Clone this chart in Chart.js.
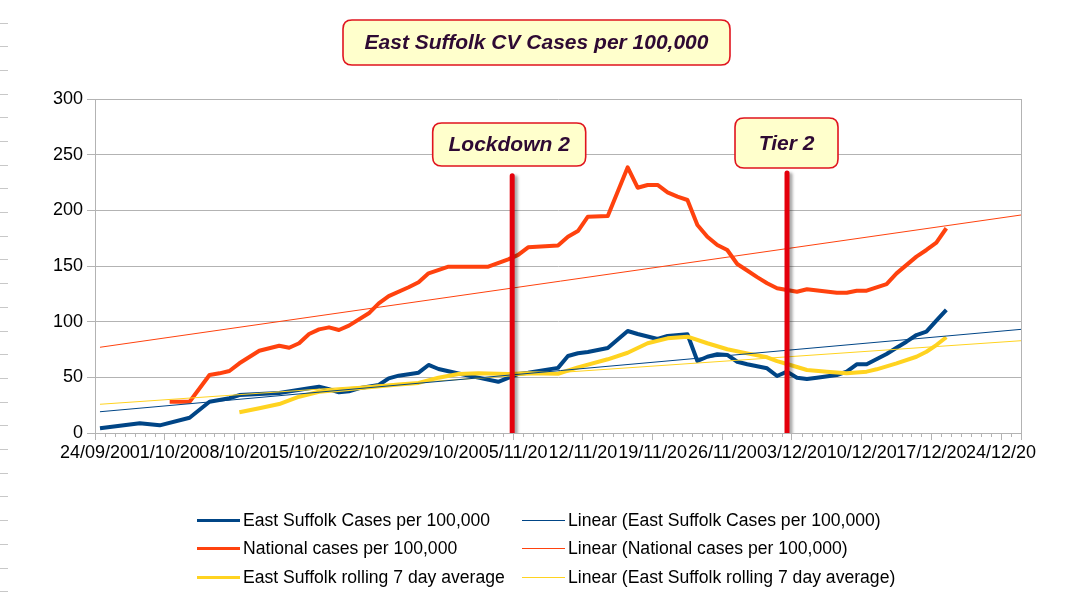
<!DOCTYPE html>
<html>
<head>
<meta charset="utf-8">
<title>East Suffolk CV Cases per 100,000</title>
<script src="https://cdn.jsdelivr.net/npm/chart.js@4/dist/chart.umd.min.js"></script>
<style>
  body { margin: 0; background: #fff; }
</style>
</head>
<body>
<canvas id="cvChart" width="1083" height="606"></canvas>
<script>
// x values are days counted from 24/09/20
var tickDays = [0, 7, 14, 21, 28, 35, 42, 49, 56, 63, 70, 77, 84, 91];
var tickLabels = ['24/09/20', '01/10/20', '08/10/20', '15/10/20', '22/10/20', '29/10/20', '05/11/20',
    '12/11/20', '19/11/20', '26/11/20', '03/12/20', '10/12/20', '17/12/20', '24/12/20'];

var eastDays = [0.5, 4.5, 6.5, 9.5, 11.5, 13.5, 14.5, 18.5, 21.5, 22.5, 23.5, 24.5, 25.5, 26.5, 28.5, 29.5, 30.5,
    32.5, 33.5, 34.5, 36.5, 38.5, 40.5, 41.5, 42.5, 43.5, 46.5, 47.5, 48.5, 49.5, 51.5, 53.5, 54.5, 56.5, 57.5,
    59.5, 60.5, 61.5, 62.5, 63.5, 64.5, 65.5, 67.5, 68.5, 69.5, 70.5, 71.5, 72.5, 74.5, 75.5, 76.5, 77.5, 79.5,
    80.5, 81.5, 82.5, 83.5, 84.5, 85.5];
var eastCases = [4.2, 8.7, 6.9, 13.7, 28.1, 31.2, 34.1, 35.9, 40.2, 41.6, 39.3, 36.5, 37.5, 40.2, 43.1, 49.1, 51.5,
    54.2, 61.1, 57.5, 53.5, 49.7, 46, 49.5, 53, 54.2, 58.5, 69.2, 71.6, 72.8, 76.3, 91.6, 88.9, 84.4, 87.1,
    88.7, 64.7, 68.5, 70.7, 70.1, 64, 61.7, 58.1, 51.2, 55.1, 49.7, 48.5, 49.7, 52.1, 55.1, 61.7, 61.7, 71,
    76.6, 82, 88, 91, 100.9, 110.5];

var nationalDays = [7.5, 9.5, 11.5, 12.5, 13.5, 14.5, 16.5, 18.5, 19.5, 20.5, 21.5, 22.5, 23.5, 24.5, 25.5, 27.5,
    28.5, 29.5, 31.5, 32.5, 33.5, 35.5, 39.5, 41.5, 42.5, 43.5, 46.5, 47.5, 48.5, 49.5, 51.5, 53.5, 54.5, 55.5,
    56.5, 57.5, 58.5, 59.5, 60.5, 61.5, 62.5, 63.5, 64.5, 65.5, 66.5, 67.5, 68.5, 69.5, 70.5, 71.5, 74.5, 75.5,
    76.5, 77.5, 79.5, 80.5, 82.5, 83.5, 84.5, 85.5];
var nationalCases = [28.1, 28.1, 52.1, 53.6, 55.7, 62.6, 73.9, 78.4, 76.6, 80.6, 88.9, 93.1, 94.9, 92.5, 96.4, 107.5,
    116.5, 123, 130.9, 135.4, 143.4, 149.4, 149.4, 156, 160, 166.8, 168.5, 176.3, 181.4, 194.3, 194.9, 238.6, 220.3, 222.8,
    222.8, 216.2, 212.3, 209.3, 186.8, 176.3, 168.9, 164.4, 151.8, 146, 140, 134.5, 130, 128.4, 126.9, 129.1, 126, 126,
    127.8, 127.8, 133.8, 143.4, 158.4, 164.4, 170.9, 183.9];

var rollingDays = [14.5, 16.5, 18.5, 20.5, 22.5, 24.5, 27.5, 30.5, 32.5, 34.5, 36.5, 38.5, 41.5, 43.5, 46.5, 48.5,
    51.5, 53.5, 55.5, 57.5, 59.5, 61.5, 63.5, 65.5, 67.5, 68.5, 69.5, 71.5, 73.5, 75.5, 77.5, 78.5, 80.5, 82.5,
    83.5, 84.5, 85.5];
var rollingAvg = [18.6, 22.2, 26, 32.6, 37, 38.6, 41, 43.5, 45, 49.7, 53, 53.6, 53, 53.6, 53.2, 59,
    66.2, 72.1, 80.6, 85, 86.5, 80.6, 75.2, 71.5, 68, 64.5, 62, 56.6, 55.1, 53.6, 55.1, 57.2, 62.6, 68.5,
    73, 79, 86];

// linear trend lines, end values
var trendDays = [0.5, 93];
var eastTrend = [19.1, 93.1];
var nationalTrend = [77, 195.8];
var rollingTrend = [25.8, 82.9];

var eventDays = [41.9, 69.5];
var eventTops = [231, 233.5];
var eventLabels = ['Lockdown 2', 'Tier 2'];

var chartTitle = 'East Suffolk CV Cases per 100,000';

function pts(days, vals) {
    return days.map(function (d, i) { return { x: d, y: vals[i] }; });
}

var datasets = [
    { label: 'East Suffolk Cases per 100,000', data: pts(eastDays, eastCases), borderColor: '#004586', borderWidth: 4, order: 3 },
    { label: 'Linear (East Suffolk Cases per 100,000)', data: pts(trendDays, eastTrend), borderColor: '#004586', borderWidth: 1, order: 0 },
    { label: 'National cases per 100,000', data: pts(nationalDays, nationalCases), borderColor: '#ff420e', borderWidth: 4, order: 2 },
    { label: 'Linear (National cases per 100,000)', data: pts(trendDays, nationalTrend), borderColor: '#ff420e', borderWidth: 1, order: 0 },
    { label: 'East Suffolk rolling 7 day average', data: pts(rollingDays, rollingAvg), borderColor: '#ffd320', borderWidth: 4, order: 1 },
    { label: 'Linear (East Suffolk rolling 7 day average)', data: pts(trendDays, rollingTrend), borderColor: '#ffd320', borderWidth: 1, order: 0 }
];
var legendCount = datasets.length;

eventDays.forEach(function (d, i) {
    datasets.push({
        label: eventLabels[i],
        data: [{ x: d, y: 0 }, { x: d, y: eventTops[i] }],
        borderColor: '#e4000c',
        borderWidth: 5,
        borderCapStyle: 'round',
        order: -1,
        isEvent: true
    });
});

datasets.forEach(function (ds) {
    ds.pointRadius = 0;
    ds.tension = 0;
    ds.fill = false;
    ds.borderJoinStyle = 'round';
});

function roundBox(c, x1, y1, x2, y2, r) {
    c.beginPath();
    c.moveTo(x1 + r, y1);
    c.lineTo(x2 - r, y1);
    c.quadraticCurveTo(x2, y1, x2, y1 + r);
    c.lineTo(x2, y2 - r);
    c.quadraticCurveTo(x2, y2, x2 - r, y2);
    c.lineTo(x1 + r, y2);
    c.quadraticCurveTo(x1, y2, x1, y2 - r);
    c.lineTo(x1, y1 + r);
    c.quadraticCurveTo(x1, y1, x1 + r, y1);
    c.closePath();
}

function labelBox(c, text, cx, y1, w, h) {
    c.save();
    roundBox(c, cx - w / 2, y1, cx + w / 2, y1 + h, 9);
    c.fillStyle = '#ffffcc';
    c.fill();
    c.lineWidth = 1.6;
    c.strokeStyle = '#e0141e';
    c.stroke();
    c.fillStyle = '#2e0a33';
    c.font = 'italic bold 21px "Liberation Sans"';
    c.textAlign = 'center';
    c.textBaseline = 'middle';
    c.fillText(text, cx, y1 + h / 2 + 1);
    c.restore();
}

var decorPlugin = {
    id: 'decor',
    beforeDatasetDraw: function (chart, args) {
        if (chart.data.datasets[args.index].isEvent) {
            var c = chart.ctx;
            c.save();
            c.shadowColor = 'rgba(0,0,0,0.35)';
            c.shadowOffsetX = 3;
            c.shadowOffsetY = 2;
            c.shadowBlur = 3;
        }
    },
    afterDatasetDraw: function (chart, args) {
        if (chart.data.datasets[args.index].isEvent) {
            chart.ctx.restore();
        }
    },
    afterDraw: function (chart) {
        var c = chart.ctx;
        var area = chart.chartArea;
        var xs = chart.scales.x;

        // sheet row marks on the left edge
        c.save();
        c.strokeStyle = '#c8c8c8';
        c.lineWidth = 1;
        for (var yy = 22.5; yy < 606; yy += 23.7) {
            c.beginPath();
            c.moveTo(0, Math.round(yy) + 0.5);
            c.lineTo(8, Math.round(yy) + 0.5);
            c.stroke();
        }

        // right border and minor day ticks
        c.strokeStyle = '#b3b3b3';
        c.beginPath();
        c.moveTo(area.right + 0.5, area.top);
        c.lineTo(area.right + 0.5, area.bottom + 7);
        c.stroke();
        for (var d = 1; d < 93; d++) {
            if (d % 7 === 0) continue;
            var px = Math.round(xs.getPixelForValue(d)) + 0.5;
            c.beginPath();
            c.moveTo(px, area.bottom);
            c.lineTo(px, area.bottom + 4);
            c.stroke();
        }
        c.restore();

        // title and event boxes
        labelBox(c, chartTitle, 536.5, 20, 387, 45);
        labelBox(c, eventLabels[0], xs.getPixelForValue(eventDays[0]) - 3, 123, 153, 43);
        labelBox(c, eventLabels[1], xs.getPixelForValue(eventDays[1]) - 0.5, 118, 103, 50);

        // legend, two columns
        c.save();
        c.font = '17.6px "Liberation Sans"';
        c.textBaseline = 'middle';
        c.fillStyle = '#000';
        var colX = [197, 522];
        var rowY = [520, 548, 577];
        for (var i = 0; i < legendCount; i++) {
            var ds = chart.data.datasets[i];
            var x0 = colX[i % 2];
            var y0 = rowY[Math.floor(i / 2)];
            c.strokeStyle = ds.borderColor;
            c.lineWidth = ds.borderWidth > 1 ? 3 : 1;
            c.beginPath();
            c.moveTo(x0, y0 + 0.5);
            c.lineTo(x0 + 43, y0 + 0.5);
            c.stroke();
            c.fillText(ds.label, x0 + 46, y0 + 1);
        }
        c.restore();
    }
};

var ctx = document.getElementById('cvChart').getContext('2d');

var cvChart = new Chart(ctx, {
    type: 'line',
    data: { datasets: datasets },
    plugins: [decorPlugin],
    options: {
        responsive: false,
        animation: false,
        layout: { padding: { top: 99, right: 62, left: 0, bottom: 0 } },
        plugins: {
            legend: { display: false },
            tooltip: { enabled: false }
        },
        scales: {
            x: {
                type: 'linear',
                min: 0,
                max: 93,
                afterBuildTicks: function (scale) {
                    scale.ticks = tickDays.map(function (d) { return { value: d }; });
                },
                afterFit: function (scale) {
                    scale.height = 173;
                    scale.paddingLeft = 0;
                    scale.paddingRight = 0;
                },
                ticks: {
                    autoSkip: false,
                    maxRotation: 0,
                    minRotation: 0,
                    padding: 2,
                    color: '#000',
                    font: { family: 'Liberation Sans', size: 18 },
                    callback: function (val, index) {
                        return tickLabels[index];
                    }
                },
                grid: { drawOnChartArea: false, color: '#b3b3b3', tickLength: 7 },
                border: { color: '#b3b3b3' }
            },
            y: {
                min: 0,
                max: 300,
                afterFit: function (scale) {
                    scale.width = 95;
                    scale.paddingTop = 0;
                    scale.paddingBottom = 0;
                },
                ticks: {
                    stepSize: 50,
                    padding: 4,
                    color: '#000',
                    font: { family: 'Liberation Sans', size: 18 }
                },
                grid: { color: '#b3b3b3', tickLength: 8 },
                border: { color: '#b3b3b3' }
            }
        }
    }
});
</script>
</body>
</html>
